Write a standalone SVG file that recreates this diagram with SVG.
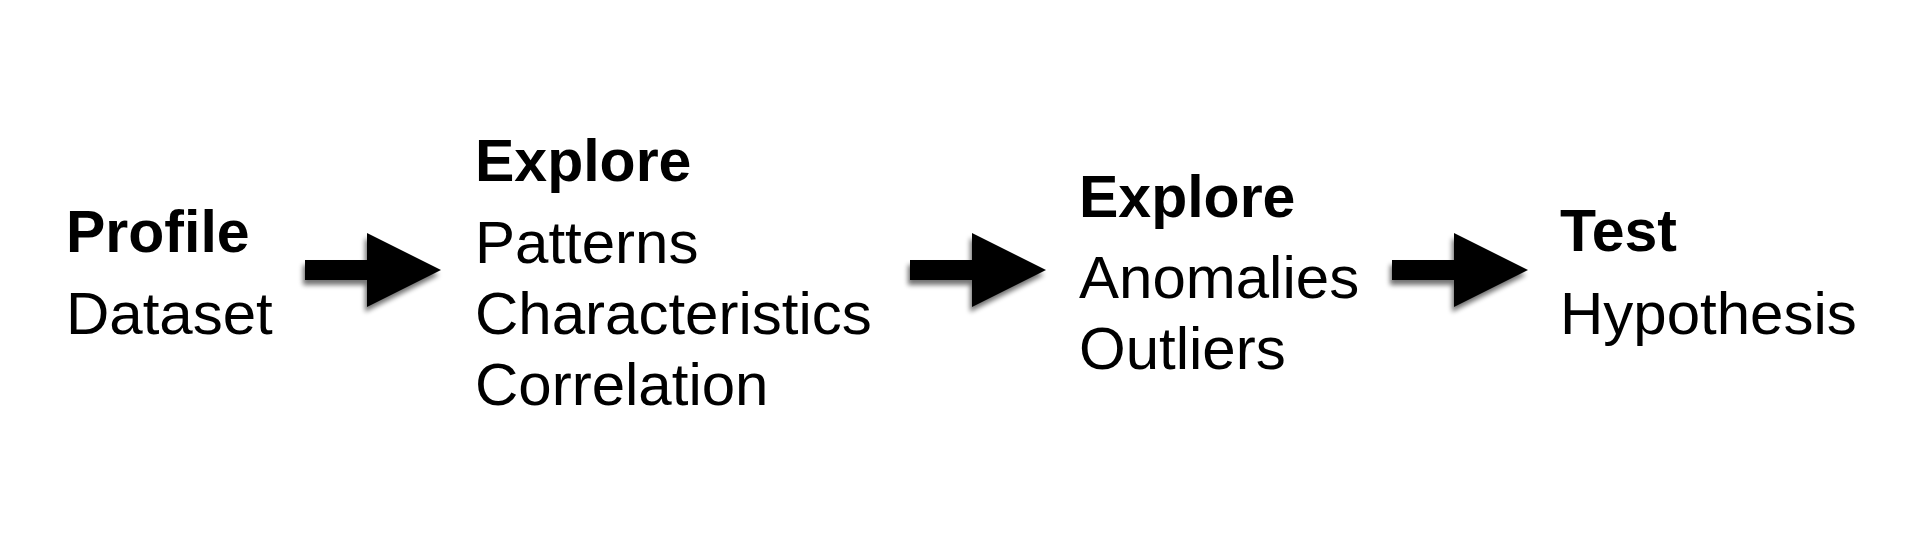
<svg xmlns="http://www.w3.org/2000/svg" width="1920" height="540" viewBox="0 0 1920 540">
<defs>
<style>
.b{font-family:"Liberation Sans",Arial,Helvetica,sans-serif;font-weight:bold;font-size:59px;fill:#000}
.r{font-family:"Liberation Sans",Arial,Helvetica,sans-serif;font-size:60px;fill:#000}
</style>
<filter id="sh" x="-20%" y="-20%" width="140%" height="160%">
<feGaussianBlur in="SourceAlpha" stdDeviation="2.5"/>
<feOffset dx="-2" dy="5" result="o"/>
<feComponentTransfer><feFuncA type="linear" slope="0.55"/></feComponentTransfer>
<feMerge><feMergeNode/><feMergeNode in="SourceGraphic"/></feMerge>
</filter>
<path id="arr" d="M0,-10 H62 V-37 L136,0 L62,37 V10 H0 Z"/>
</defs>
<rect width="1920" height="540" fill="#fff"/>
<g id="connectors" filter="url(#sh)">
<use href="#arr" x="305" y="270"/>
<use href="#arr" x="910" y="270"/>
<use href="#arr" x="1392" y="270"/>
</g>
<g id="profile">
<text class="b" x="66" y="252">Profile</text>
<text class="r" x="66" y="334">Dataset</text>
</g>
<g id="explore1">
<text class="b" x="475" y="181">Explore</text>
<text class="r" x="475" y="263">Patterns</text>
<text class="r" x="475" y="334">Characteristics</text>
<text class="r" x="475" y="405">Correlation</text>
</g>
<g id="explore2">
<text class="b" x="1079" y="217">Explore</text>
<text class="r" x="1079" y="298">Anomalies</text>
<text class="r" x="1079" y="369">Outliers</text>
</g>
<g id="test">
<text class="b" x="1560" y="251">Test</text>
<text class="r" x="1560" y="334">Hypothesis</text>
</g>
</svg>
